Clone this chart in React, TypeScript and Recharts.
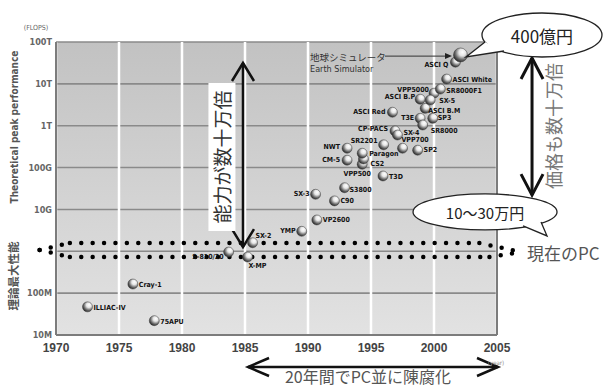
import React from 'react';
import { ScatterChart, Scatter, XAxis, YAxis, CartesianGrid, ReferenceLine, ReferenceDot } from 'recharts';

// ---- data ----
const machineNames = [
  'ILLIAC-IV', 'Cray-1', '75APU', 'S-810/20', 'X-MP', 'SX-2', 'YMP', 'VP2600', 'SX-3', 'C90',
  'S3800', 'VPP500', 'CS2', 'CM-5', 'NWT', 'Paragon', 'SR2201', 'T3D', 'CP-PACS', 'SX-4',
  'VPP700', 'SP2', 'ASCI Red', 'T3E', 'SR8000', 'SP3', 'ASCI B.P', 'ASCI B.M', 'VPP5000', 'SR8000F1',
  'SX-5', 'ASCI White', 'ASCI Q', '地球シミュレータ',
];
const releaseYears = [
  1972.5, 1976.1, 1977.8, 1983.7, 1985.2, 1985.6, 1989.5, 1990.7, 1990.6, 1992.1,
  1992.9, 1994.3, 1994.4, 1993.1, 1993.1, 1994.3, 1996.0, 1995.95, 1996.9, 1997.1,
  1997.5, 1998.7, 1996.7, 1998.9, 1999.1, 1999.9, 1998.9, 1999.3, 2000.0, 2000.5,
  1999.7, 2001.0, 2001.7, 2002.1,
];
const peakFlops = [
  4.7e7, 1.65e8, 2.2e7, 9.6e8, 7.3e8, 1.6e9, 3.0e9, 5.6e9, 2.3e10, 1.6e10,
  3.3e10, 1.2e11, 1.6e11, 1.5e11, 2.9e11, 2.2e11, 3.5e11, 6.3e10, 7.5e11, 6.0e11,
  2.9e11, 2.6e11, 2.1e12, 1.5e12, 1.04e12, 1.5e12, 4.3e12, 2.6e12, 6.0e12, 7.5e12,
  4.1e12, 1.3e13, 3.3e13, 4.9e13,
];
const yearTicks = [1970, 1975, 1980, 1985, 1990, 1995, 2000, 2005];
const flopsTicks = [1e7, 1e8, 1e9, 1e10, 1e11, 1e12, 1e13, 1e14];
const flopsTickLabels = ['10M', '100M', '', '10G', '100G', '1T', '10T', '100T'];

// annotation anchors (data coordinates)
const pcTopRow = [
  { x: 1968.7, y: 1.07e9 }, { x: 1971.1, y: 1.58e9 }, { x: 2003.6, y: 1.58e9 }, { x: 2006.9, y: 9.6e8 },
];
const pcBottomRow = [
  { x: 1968.7, y: 1.07e9 }, { x: 1971.1, y: 7.3e8 }, { x: 2004.4, y: 7.3e8 }, { x: 2006.9, y: 9.6e8 },
];
const perfArrow = [{ x: 1984.84, y: 3.15e13 }, { x: 1984.84, y: 1.26e9 }];
const priceArrow = [{ x: 2007.78, y: 4.14e13 }, { x: 2007.78, y: 2.2e10 }];
const timeArrow = [{ x: 1985.24, y: 1.72e6 }, { x: 2005.08, y: 1.72e6 }];
const esPointer = [{ x: 1996.11, y: 4.6e13 }, { x: 2001.43, y: 4.6e13 }];

// label placement for point labels: [dx, dy, anchor]
const labelPlacement: Record<string, [number, number, string]> = {
  'ILLIAC-IV': [6, 1, 'start'], 'Cray-1': [6, 1, 'start'], '75APU': [6, 1, 'start'],
  'S-810/20': [-5, 5, 'end'], 'X-MP': [1, 9, 'start'], 'SX-2': [3, -7, 'start'],
  'YMP': [-6, 0, 'end'], 'VP2600': [6, 0, 'start'], 'SX-3': [-6, 0, 'end'], 'C90': [6, 0, 'start'],
  'S3800': [5, 2, 'start'], 'VPP500': [-5, 10, 'middle'], 'CS2': [7, 5, 'start'], 'CM-5': [-7, 0, 'end'],
  'NWT': [-7, -1, 'end'], 'Paragon': [7, 1, 'start'], 'SR2201': [-6, -4, 'end'], 'T3D': [6, 1, 'start'],
  'CP-PACS': [-7, -2, 'end'], 'SX-4': [6, -2, 'start'], 'VPP700': [-1, -8, 'start'], 'SP2': [6, 0, 'start'],
  'ASCI Red': [-7, 0, 'end'], 'T3E': [-6, 0, 'end'], 'SR8000': [8, 6, 'start'], 'SP3': [5, 0, 'start'],
  'ASCI B.P': [-5, -2, 'end'], 'ASCI B.M': [3, 3, 'start'], 'VPP5000': [-5, -3, 'end'],
  'SR8000F1': [6, 2, 'start'], 'SX-5': [9, 1, 'start'], 'ASCI White': [6, 1, 'start'], 'ASCI Q': [-7, 3, 'end'],
};

const NARROW = "'DejaVu Sans Condensed', 'Liberation Sans Narrow', 'Liberation Sans', Arial, sans-serif";
const JP = "'Noto Sans CJK JP', 'Noto Sans', sans-serif";

const Sphere = (props: any) => {
  const { cx, cy, payload } = props;
  if (cx == null || cy == null) return null;
  const big = payload.name === '地球シミュレータ';
  const r = big ? 7 : 5;
  const lp = labelPlacement[payload.name];
  return (
    <g>
      <circle cx={cx} cy={cy} r={r} fill="url(#sphereGrad)" stroke="#3a3a3a" strokeWidth={0.5} />
      {lp && (
        <text x={cx + lp[0]} y={cy + lp[1]} textAnchor={lp[2] as any} dominantBaseline="central"
          fontSize={7} fontWeight="bold" fontFamily={NARROW} fill="#111">{payload.name}</text>
      )}
    </g>
  );
};

const makeDoubleArrow = (head: number, spread: number, sw: number, color: string) => (p: any) => {
  const { x1, y1, x2, y2 } = p;
  const a = Math.atan2(y2 - y1, x2 - x1);
  const mk = (tx: number, ty: number, ang: number) => {
    const bx = tx - head * Math.cos(ang), by = ty - head * Math.sin(ang);
    const px = -Math.sin(ang) * spread, py = Math.cos(ang) * spread;
    return `M${bx + px},${by + py} L${tx},${ty} L${bx - px},${by - py}`;
  };
  return (
    <g>
      <line x1={x1} y1={y1} x2={x2} y2={y2} stroke={color} strokeWidth={sw} />
      <path d={`${mk(x2, y2, a)} ${mk(x1, y1, a + Math.PI)}`} fill="none" stroke={color} strokeWidth={sw} strokeLinejoin="miter" />
    </g>
  );
};

const dottedShape = (p: any) => (
  <line x1={p.x1} y1={p.y1} x2={p.x2} y2={p.y2} stroke="#000" strokeWidth={4.5}
    strokeDasharray="0 11.4" strokeLinecap="round" />
);

const pointerShape = (p: any) => {
  const { x1, y1, x2, y2 } = p;
  return (
    <g>
      <line x1={x1} y1={y1} x2={x2 - 4} y2={y2} stroke="#333" strokeWidth={1} />
      <path d={`M${x2},${y2} L${x2 - 7},${y2 - 3} L${x2 - 7},${y2 + 3} Z`} fill="#222" />
    </g>
  );
};

const textShape = (txt: string, opts: any) => (p: any) => {
  const { cx, cy } = p;
  if (cx == null) return <g />;
  const { rotate, box, ...rest } = opts;
  return (
    <g>
      {box && <rect x={cx - box[0] / 2} y={cy - box[1] / 2} width={box[0]} height={box[1]} fill="#fff" />}
      <text x={cx} y={cy} dominantBaseline="central" transform={rotate ? `rotate(${rotate}, ${cx}, ${cy})` : undefined} {...rest}>{txt}</text>
    </g>
  );
};

const bubbleShape = (txt: string, rx: number, ry: number, tail: number[], fs: number) => (p: any) => {
  const { cx, cy } = p;
  if (cx == null) return <g />;
  const [ax, ay, tx, ty, bx, by] = tail;
  return (
    <g>
      <ellipse cx={cx} cy={cy} rx={rx} ry={ry} fill="#fff" stroke="#222" strokeWidth={1.3} />
      <path d={`M${cx + ax},${cy + ay} L${cx + tx},${cy + ty} L${cx + bx},${cy + by}`} fill="#fff" stroke="#222" strokeWidth={1.3} />
      <text x={cx} y={cy + 1} textAnchor="middle" dominantBaseline="central" fontSize={fs} fontFamily={JP} fill="#222">{txt}</text>
    </g>
  );
};

const segs = (row: { x: number; y: number }[]) => row.slice(0, -1).map((pt, i) => [pt, row[i + 1]]);

export default function App() {
  const data = machineNames.map((name, i) => ({ name, year: releaseYears[i], flops: peakFlops[i] }));
  const fmt = (v: number) => {
    const i = flopsTicks.findIndex((t) => Math.abs(Math.log10(t) - Math.log10(v)) < 1e-6);
    return i >= 0 ? flopsTickLabels[i] : '';
  };
  return (
    <div style={{ position: 'absolute', left: 0, top: 0, background: '#fff' }}>
      <ScatterChart width={605} height={388} margin={{ top: 42, right: 108, bottom: 23, left: 16 }}>
        <defs>
          <linearGradient id="bgGrad" x1="0" y1="0" x2="0" y2="1">
            <stop offset="0%" stopColor="#c2c2c2" />
            <stop offset="100%" stopColor="#e2e2e2" />
          </linearGradient>
          <radialGradient id="sphereGrad" cx="62%" cy="35%" r="70%" fx="65%" fy="30%">
            <stop offset="0%" stopColor="#ffffff" />
            <stop offset="35%" stopColor="#e6e6e6" />
            <stop offset="70%" stopColor="#6e6e6e" />
            <stop offset="100%" stopColor="#1e1e1e" />
          </radialGradient>
        </defs>
        <CartesianGrid vertical={false} horizontal stroke="#8a8a8a" strokeWidth={1.6} fill="url(#bgGrad)" fillOpacity={1} />
        <CartesianGrid horizontal={false} vertical stroke="#ffffff" strokeWidth={2.5} />
        <XAxis type="number" dataKey="year" domain={[1970, 2005]} ticks={yearTicks} allowDataOverflow
          height={30} tickLine={false} tickSize={0} tickMargin={8}
          axisLine={{ stroke: '#7c7c7c', strokeWidth: 2 }}
          tick={{ fontSize: 12, fontWeight: 'bold', fill: '#444', fontFamily: "'Liberation Sans', Arial, sans-serif" }} />
        <YAxis type="number" dataKey="flops" scale="log" domain={[1e7, 1e14]} ticks={flopsTicks} allowDataOverflow
          width={40} tickLine={false} tickSize={0} tickMargin={4} tickFormatter={fmt}
          axisLine={{ stroke: '#7c7c7c', strokeWidth: 2 }}
          tick={{ fontSize: 9, fontWeight: 'bold', fill: '#666', fontFamily: NARROW }} />
        <ReferenceLine x={2005} stroke="#7c7c7c" strokeWidth={2} ifOverflow="visible" />

        {segs(pcTopRow).map((s, i) => (
          <ReferenceLine key={`t${i}`} segment={s} ifOverflow="visible" shape={dottedShape} />
        ))}
        {segs(pcBottomRow).map((s, i) => (
          <ReferenceLine key={`b${i}`} segment={s} ifOverflow="visible" shape={dottedShape} />
        ))}

        <Scatter data={data} isAnimationActive={false} shape={Sphere} />

        <ReferenceLine segment={perfArrow} ifOverflow="visible" shape={makeDoubleArrow(18, 11, 2.5, '#111')} />
        <ReferenceLine segment={priceArrow} ifOverflow="visible" shape={makeDoubleArrow(21, 11, 3, '#111')} />
        <ReferenceLine segment={timeArrow} ifOverflow="visible" shape={makeDoubleArrow(21, 9, 2.5, '#111')} />
        <ReferenceLine segment={esPointer} ifOverflow="visible" shape={pointerShape} />

        <ReferenceDot x={1983.17} y={1.79e11} ifOverflow="visible"
          shape={textShape('能力が数十万倍', { rotate: -90, box: [27, 148], textAnchor: 'middle', fontSize: 19, fontFamily: JP, fill: '#333' })} />
        <ReferenceDot x={2009.44} y={9.8e11} ifOverflow="visible"
          shape={textShape('価格も数十万倍', { rotate: -90, textAnchor: 'middle', fontSize: 18, fontFamily: JP, fill: '#777' })} />
        <ReferenceDot x={2008.57} y={1.47e14} ifOverflow="visible"
          shape={bubbleShape('400億円', 60, 22, [-57, 7, -76, 22, -38, 16], 17)} />
        <ReferenceDot x={2004.05} y={8.7e9} ifOverflow="visible"
          shape={bubbleShape('10〜30万円', 72, 18, [38, 14, 62, 24, 56, 10], 15)} />
        <ReferenceDot x={2007.38} y={9.6e8} ifOverflow="visible"
          shape={textShape('現在のPC', { textAnchor: 'start', fontSize: 17, fontFamily: JP, fill: '#555' })} />
        <ReferenceDot x={1994.76} y={1.05e6} ifOverflow="visible"
          shape={textShape('20年間でPC並に陳腐化', { textAnchor: 'middle', fontSize: 16, fontFamily: JP, fill: '#555' })} />
        <ReferenceDot x={1990.16} y={4.37e13} ifOverflow="visible"
          shape={textShape('地球シミュレータ', { textAnchor: 'start', fontSize: 9.5, fontFamily: JP, fill: '#333' })} />
        <ReferenceDot x={1990.16} y={2.26e13} ifOverflow="visible"
          shape={textShape('Earth Simulator', { textAnchor: 'start', fontSize: 9, fontFamily: NARROW, fill: '#333' })} />
        <ReferenceDot x={1968.41} y={2.16e14} ifOverflow="visible"
          shape={textShape('(FLOPS)', { textAnchor: 'middle', fontSize: 7, fontFamily: NARROW, fill: '#666' })} />
        <ReferenceDot x={2004.92} y={2.26e6} ifOverflow="visible"
          shape={textShape('(year)', { textAnchor: 'middle', fontSize: 6, fontFamily: NARROW, fill: '#888' })} />
        <ReferenceDot x={1966.67} y={9.3e11} ifOverflow="visible"
          shape={textShape('Theoretical peak performance', { rotate: -90, textAnchor: 'middle', fontSize: 10, fontWeight: 'bold', fontFamily: NARROW, fill: '#555' })} />
        <ReferenceDot x={1966.59} y={2.57e8} ifOverflow="visible"
          shape={textShape('理論最大性能', { rotate: -90, textAnchor: 'middle', fontSize: 11.5, fontWeight: 'bold', fontFamily: JP, fill: '#555' })} />
      </ScatterChart>
    </div>
  );
}
